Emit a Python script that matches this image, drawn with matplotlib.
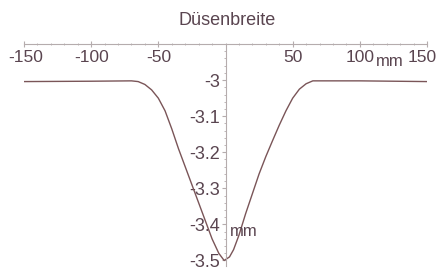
import matplotlib
matplotlib.use("Agg")
import matplotlib.pyplot as plt
from matplotlib.ticker import MultipleLocator
from matplotlib.transforms import ScaledTranslation

# Data (mm across nozzle width, depth in mm)
x_mm = [-150, -100, -70, -65, -60, -55, -50, -45, -40, -35, -30, -25, -20,
        -15, -10, -5, -1, 3, 6, 10, 15, 20, 25, 30, 35, 40, 45, 50, 55,
        60, 65, 100, 150]
z_mm = [-3.004, -3.003, -3.002, -3.004, -3.012, -3.027, -3.05, -3.085,
        -3.135, -3.19, -3.24, -3.29, -3.34, -3.39, -3.44, -3.48, -3.5,
        -3.49, -3.47, -3.43, -3.37, -3.315, -3.26, -3.212, -3.168, -3.125,
        -3.085, -3.05, -3.025, -3.01, -3.002, -3.002, -3.004]
x_ticks = [-150, -100, -50, 50, 100, 150]
y_ticks = [-3.0, -3.1, -3.2, -3.3, -3.4, -3.5]
y_tick_labels = ["-3", "-3.1", "-3.2", "-3.3", "-3.4", "-3.5"]
title = "Düsenbreite"
unit = "mm"

txt = "#5a4550"
axc = "#b5acad"
curve = "#7a5558"
plt.rcParams['font.family'] = ['Liberation Sans', 'DejaVu Sans']

fig = plt.figure(figsize=(4.4, 2.72), dpi=100)
fig.patch.set_facecolor("white")
ax = fig.add_axes([0.0545, 0.0224, 0.916, 0.8156])
ax.set_facecolor("none")
ax.plot(x_mm, z_mm, color=curve, lw=1.0)
ax.set_xlim(-150, 150)
ax.set_ylim(-3.515, -2.9)

for s in ["top", "right"]:
    ax.spines[s].set_visible(False)
ax.spines["bottom"].set_position(("data", -2.9))
ax.spines["left"].set_position(("data", 0))
ax.spines["bottom"].set_color(axc)
ax.spines["left"].set_color(axc)
ax.spines["bottom"].set_linewidth(0.8)
ax.spines["left"].set_linewidth(0.8)

ax.set_xticks(x_ticks)
ax.set_xticklabels([str(v) for v in x_ticks])
ax.xaxis.set_minor_locator(MultipleLocator(10))
ax.set_yticks(y_ticks)
ax.set_yticklabels(y_tick_labels)
ax.yaxis.set_minor_locator(MultipleLocator(0.02))
ax.tick_params(axis="x", which="major", direction="inout", length=4,
               color=axc, labelsize=12.5, labelcolor=txt, pad=2)
ax.tick_params(axis="x", which="minor", direction="inout", length=2, color=axc)
ax.tick_params(axis="y", which="major", direction="out", length=3,
               color=axc, labelsize=13, labelcolor=txt, pad=1)
ax.tick_params(axis="y", which="minor", direction="out", length=1.5, color=axc)

# nudge edge labels inward so they stay inside the canvas
labs = ax.get_xticklabels()
labs[-1].set_transform(labs[-1].get_transform() +
                       ScaledTranslation(-5 / 100, 0, fig.dpi_scale_trans))
labs[0].set_transform(labs[0].get_transform() +
                      ScaledTranslation(2 / 100, 0, fig.dpi_scale_trans))

fig.text(0.516, 0.925, title, ha="center", va="center", fontsize=13, color=txt)
ax.text(122.5, -2.961, unit, ha="center", va="baseline", fontsize=12, color=txt)
ax.text(3, -3.42, unit, ha="left", va="center", fontsize=12, color=txt)

fig.savefig("out.png", dpi=100, facecolor="white")
